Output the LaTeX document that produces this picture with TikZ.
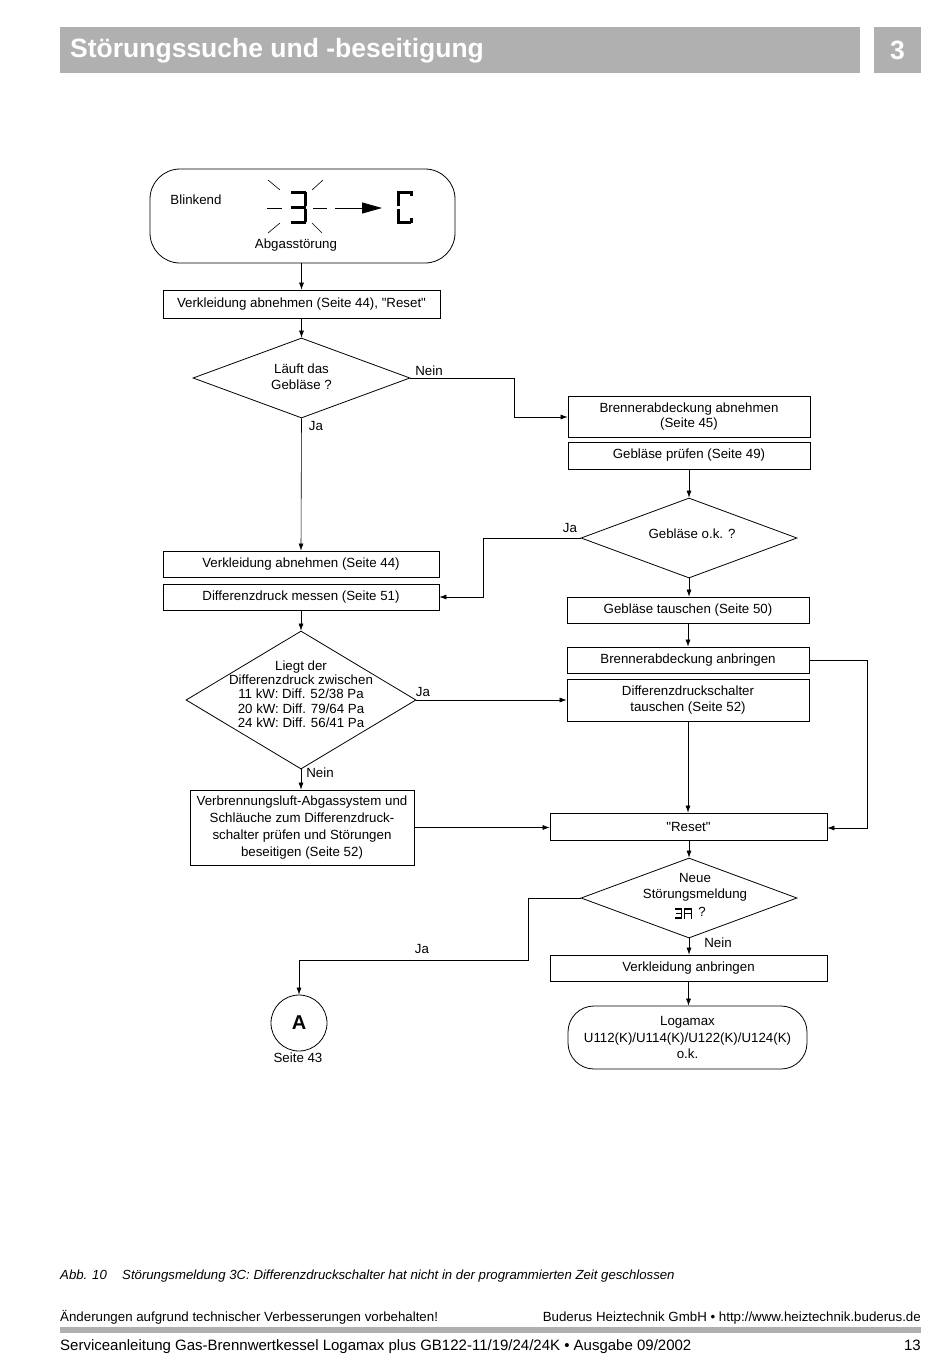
\documentclass[tikz,border=0pt]{standalone}
\usepackage{fontspec}
\setmainfont{Liberation Sans}[Ligatures=TeXOff]
\usetikzlibrary{shapes.geometric,arrows.meta,calc}
\definecolor{hdrgray}{RGB}{176,176,176}
\newcommand{\bodyfont}{\fontsize{13.3}{15.8}\selectfont}
\begin{document}
\begin{tikzpicture}[x=1pt,y=-1pt,
  box/.style={draw, line width=0.8pt, inner sep=0pt, align=center, font=\bodyfont},
  dia/.style={draw, diamond, line width=0.8pt, inner sep=0pt},
  arr/.style={-{Latex[length=7pt,width=5pt]}, line width=0.6pt},
  ln/.style={line width=0.6pt},
  lbl/.style={font=\bodyfont, inner sep=0pt},
  seg/.style={line width=3pt},
  sseg/.style={line width=1.2pt},
  ray/.style={line width=0.6pt}]
\useasboundingbox (0,0) rectangle (950,1357);
% header
\fill[hdrgray] (60,27) rectangle (860,73);
\fill[hdrgray] (874,27) rectangle (921,73);
\node[anchor=west, text=white, inner sep=0pt, font=\fontsize{26.5}{31}\selectfont\bfseries] (title) at (70,51) {Störungssuche und -beseitigung};
\node[text=white, inner sep=0pt, font=\fontsize{26.5}{31}\selectfont\bfseries] (chap) at (897.5,50) {3};
% top box
\node[box, rounded corners=30pt, minimum width=305pt, minimum height=94pt] (top) at (302.5,216) {};
\node[lbl] (blink) at (196,200) {Blinkend};
\node[lbl] (abgas) at (296,245.5) {Abgasstörung};
% display 3
\draw[seg] (291,192) -- (306,192);
\draw[seg] (291,207) -- (306,207);
\draw[seg] (291,222) -- (306,222);
\draw[seg] (305,192) -- (305,205.5);
\draw[seg] (305,208.5) -- (305,222);
\draw[ray] (267,208) -- (282,208);
\draw[ray] (313,208) -- (327,208);
\draw[ray] (268,180) -- (280,190);
\draw[ray] (312,190) -- (323,180);
\draw[ray] (268,233) -- (280,223);
\draw[ray] (312,223) -- (322,233);
\coordinate (dispA) at (335,208);
\coordinate (dispB) at (382,208);
\draw[-{Triangle[length=20pt,width=11pt]}, line width=0.9pt] (dispA) -- (dispB);
% display C
\draw[seg] (397,192) -- (411,192);
\draw[seg] (411,191) -- (411,196);
\draw[seg] (398,191) -- (398,205.5);
\draw[seg] (398,208.5) -- (398,223);
\draw[seg] (397,222) -- (411,222);
\draw[seg] (411,223) -- (411,218);
% left column
\node[box, minimum width=277pt, minimum height=28pt] (b1) at (301.5,304) {Verkleidung abnehmen (Seite 44), "Reset"};
\node[dia, minimum width=217pt, minimum height=80pt] (d1) at (301.5,378) {};
\node[lbl, align=center] (d1t) at (301.5,377) {Läuft das\\Gebläse ?};
\node[box, minimum width=276pt, minimum height=26pt] (l1) at (301,564) {Verkleidung abnehmen (Seite 44)};
\node[box, minimum width=276pt, minimum height=26pt] (l2) at (301,597) {Differenzdruck messen (Seite 51)};
\node[dia, minimum width=230pt, minimum height=138pt] (d3) at (301,700) {};
\node[lbl, align=center, font=\fontsize{13.3}{14.3}\selectfont] (d3t) at (301,694) {Liegt der\\Differenzdruck zwischen\\11 kW: Diff. 52/38 Pa\\20 kW: Diff. 79/64 Pa\\24 kW: Diff. 56/41 Pa};
\node[box, minimum width=224pt, minimum height=75pt, font=\fontsize{13.3}{16.7}\selectfont] (l3) at (302,827.5) {Verbrennungsluft-Abgassystem und\\Schläuche zum Differenzdruck-\\schalter prüfen und Störungen\\beseitigen (Seite 52)};
\node[circle, draw, line width=0.8pt, minimum size=56pt, inner sep=0pt, font=\fontsize{20}{24}\selectfont\bfseries] (A) at (299,1023) {A};
\node[lbl] (seite) at (298,1058) {Seite 43};
% right column
\node[box, minimum width=242pt, minimum height=41pt] (r1) at (689,416.5) {Brennerabdeckung abnehmen\\(Seite 45)};
\node[box, minimum width=242pt, minimum height=27pt] (r2) at (689,455.5) {Gebläse prüfen (Seite 49)};
\node[dia, minimum width=216pt, minimum height=80pt] (d2) at (689,538) {};
\node[lbl] (d2t) at (692,534) {Gebläse o.k. ?};
\node[box, minimum width=242pt, minimum height=26pt] (r3) at (688,610) {Gebläse tauschen (Seite 50)};
\node[box, minimum width=242pt, minimum height=26pt] (r4) at (688,660) {Brennerabdeckung anbringen};
\node[box, minimum width=242pt, minimum height=42pt] (r5) at (688,700) {Differenzdruckschalter\\tauschen (Seite 52)};
\node[box, minimum width=277pt, minimum height=27pt] (reset) at (688.5,826.5) {"Reset"};
\node[dia, minimum width=216pt, minimum height=80pt] (d4) at (689,898) {};
\node[lbl, align=center, font=\fontsize{13.3}{16}\selectfont] (d4t) at (695,887.5) {Neue\\Störungsmeldung};
\node[lbl] (d4q) at (702,912) {?};
% small 7-seg "3A"
\draw[sseg] (675,909) -- (682,909);
\draw[sseg] (676,913.5) -- (682,913.5);
\draw[sseg] (675,918) -- (682,918);
\draw[sseg] (681.5,909) -- (681.5,918);
\draw[sseg] (684.5,918.5) -- (684.5,909) -- (691.5,909) -- (691.5,918.5);
\draw[sseg] (684.5,913.5) -- (691.5,913.5);
\node[box, minimum width=277pt, minimum height=26pt] (va) at (688.5,968) {Verkleidung anbringen};
\node[box, rounded corners=26pt, minimum width=239pt, minimum height=63pt, font=\fontsize{13.3}{16.5}\selectfont] (loga) at (687.5,1037.5) {Logamax\\U112(K)/U114(K)/U122(K)/U124(K)\\o.k.};
% connectors
\draw[arr] (top.south -| b1.north) -- (b1.north);
\draw[arr] (b1.south) -- (d1.north);
\coordinate (n1a) at (514,378);
\coordinate (n1b) at (514,417);
\draw[arr] (d1.east) -- (n1a) -- (n1b) -- (r1.west |- n1b);
\node[lbl] (nein1) at (429,371) {Nein};
\draw[arr] (d1.south) -- (l1.north);
\node[lbl] (ja1) at (316,426) {Ja};
\draw[arr] (r2.south -| d2.north) -- (d2.north);
\coordinate (j2a) at (483,538);
\coordinate (j2b) at (483,597);
\draw[arr] (d2.west) -- (j2a) -- (j2b) -- (l2.east);
\node[lbl] (ja2) at (570,528) {Ja};
\draw[arr] (d2.south) -- (d2.south |- r3.north);
\draw[arr] (r3.south) -- (r4.north);
\draw[arr] (l2.south) -- (l2.south |- d3.north);
\draw[arr] (d3.east) -- (d3.east -| r5.west);
\node[lbl] (ja3) at (423,692) {Ja};
\draw[arr] (d3.south) -- (d3.south |- l3.north);
\node[lbl] (nein3) at (320,773) {Nein};
\draw[arr] (l3.east) -- (l3.east -| reset.west);
\draw[arr] (r5.south) -- (r5.south |- reset.north);
\coordinate (bra) at (867,660);
\coordinate (brb) at (867,828);
\draw[arr] (r4.east) -- (bra) -- (brb) -- (reset.east |- brb);
\draw[arr] (reset.south -| d4.north) -- (d4.north);
\coordinate (j4a) at (528,898);
\coordinate (j4b) at (528,960);
\coordinate (j4c) at (299,960);
\draw[arr] (d4.west) -- (j4a) -- (j4b) -- (j4c) -- (A.north);
\node[lbl] (ja4) at (422,949) {Ja};
\draw[arr] (d4.south) -- (d4.south |- va.north);
\node[lbl] (nein4) at (718,943) {Nein};
\draw[arr] (va.south) -- (va.south |- loga.north);
% caption and footer
\node[anchor=base west, inner sep=0pt, font=\fontsize{13.2}{15}\selectfont\itshape] (abb) at (60,1279) {Abb. 10};
\node[anchor=base west, inner sep=0pt, font=\fontsize{13.2}{15}\selectfont\itshape] (cap) at (122,1279) {Störungsmeldung 3C: Differenzdruckschalter hat nicht in der programmierten Zeit geschlossen};
\node[anchor=base west, inner sep=0pt, font=\fontsize{13.3}{15}\selectfont] (f1) at (60,1321) {Änderungen aufgrund technischer Verbesserungen vorbehalten!};
\node[anchor=base east, inner sep=0pt, font=\fontsize{13.3}{15}\selectfont] (f2) at (921,1321) {Buderus Heiztechnik GmbH • http://www.heiztechnik.buderus.de};
\fill[hdrgray] (60,1327) rectangle (921,1333);
\node[anchor=base west, inner sep=0pt, font=\fontsize{15}{17}\selectfont] (f3) at (60,1350) {Serviceanleitung Gas-Brennwertkessel Logamax plus GB122-11/19/24/24K • Ausgabe 09/2002};
\node[anchor=base east, inner sep=0pt, font=\fontsize{15}{17}\selectfont] (f4) at (921,1350) {13};
\end{tikzpicture}
\end{document}
